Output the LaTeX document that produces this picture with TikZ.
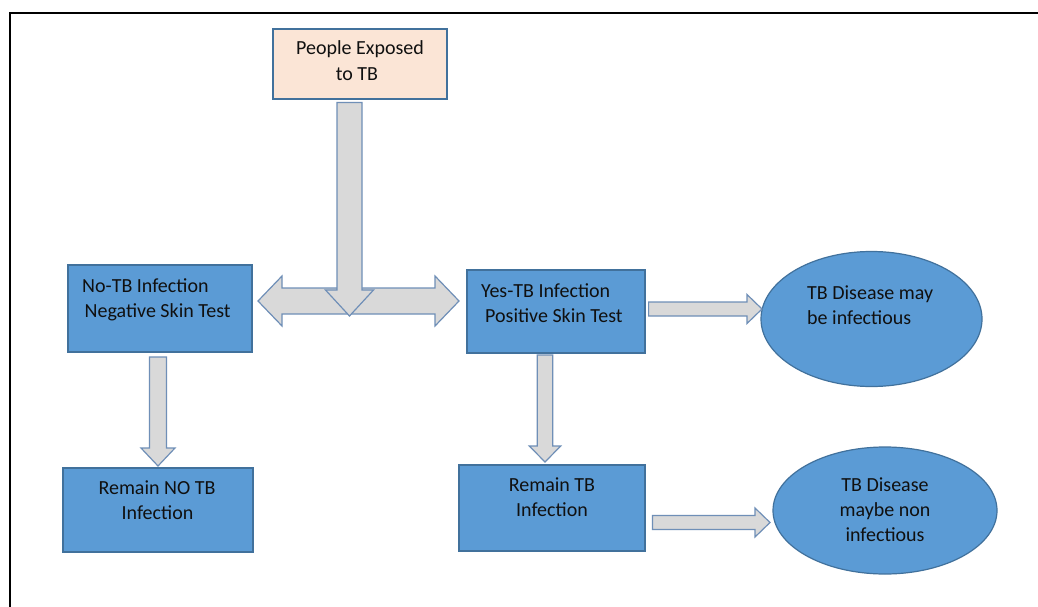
\documentclass[tikz,border=0pt]{standalone}
\usepackage{fontspec}
\setmainfont{Carlito}
\usetikzlibrary{calc,shapes.geometric}

\definecolor{boxblue}{HTML}{5B9BD5}
\definecolor{edgeblue}{HTML}{41719C}
\definecolor{peach}{HTML}{FBE5D6}
\definecolor{arrowgray}{HTML}{D9D9D9}
\definecolor{arrowedge}{HTML}{6F8FB7}
\definecolor{ink}{HTML}{101010}

% block arrow from tail #1 to tip #2: shaft half width #3, head half width #4, head length #5
\newcommand\flowarrow[5]{%
  \coordinate (fa-h) at ($(#2)!#5!(#1)$);
  \draw[blockarrow] ($(#1)!#3!90:(#2)$) -- ($(fa-h)!#3!90:(#2)$) -- ($(fa-h)!#4!90:(#2)$)
    -- (#2) -- ($(fa-h)!#4!-90:(#2)$) -- ($(fa-h)!#3!-90:(#2)$) -- ($(#1)!#3!-90:(#2)$) -- cycle;}

% block arrow with heads at both ends #1 and #2
\newcommand\twowayarrow[5]{%
  \coordinate (tw-a) at ($(#1)!#5!(#2)$);
  \coordinate (tw-b) at ($(#2)!#5!(#1)$);
  \draw[blockarrow] (#1) -- ($(tw-a)!#4!90:(#2)$) -- ($(tw-a)!#3!90:(#2)$)
    -- ($(tw-b)!#3!-90:(#1)$) -- ($(tw-b)!#4!-90:(#1)$) -- (#2)
    -- ($(tw-b)!#4!90:(#1)$) -- ($(tw-b)!#3!90:(#1)$)
    -- ($(tw-a)!#3!-90:(#2)$) -- ($(tw-a)!#4!-90:(#2)$) -- cycle;}

\begin{document}
\begin{tikzpicture}[x=1pt,y=-1pt,
  bluebox/.style={rectangle, draw=edgeblue, fill=boxblue, line width=1.2pt, inner sep=0pt},
  peachbox/.style={rectangle, draw=edgeblue, fill=peach, line width=1.2pt, inner sep=0pt},
  blueoval/.style={ellipse, draw=edgeblue, fill=boxblue, line width=1.2pt, inner sep=0pt},
  blockarrow/.style={draw=arrowedge, fill=arrowgray, line width=1.2pt, line join=miter},
  txt/.style={font=\fontsize{20}{25}\selectfont, text=ink, inner sep=0pt}]

\useasboundingbox (0,0) rectangle (1038,607);
\fill[white] (0,0) rectangle (1038,607);

% page frame
\draw[line width=2pt] (9.5,607) -- (9.5,13) -- (1038,13);

% boxes
\node[peachbox, minimum width=174pt, minimum height=70pt] (exposed) at (360,64) {};
\node[bluebox, minimum width=184pt, minimum height=87pt] (notb) at (160,308.5) {};
\node[bluebox, minimum width=178pt, minimum height=83pt] (yestb) at (556,311.5) {};
\node[bluebox, minimum width=190pt, minimum height=84pt] (remno) at (158,510) {};
\node[bluebox, minimum width=186pt, minimum height=86pt] (remtb) at (552,508) {};
\node[blueoval, minimum width=221pt, minimum height=135pt] (dis1) at (871.5,319) {};
\node[blueoval, minimum width=224pt, minimum height=127pt] (dis2) at (885,510.5) {};

% arrow end points
\coordinate (split-l) at (258,301);
\coordinate (split-r) at (459,301);
\coordinate (down-top) at ($(exposed.south)+(-10.5,3)$);
\coordinate (down-tip) at (349.5,316);
\coordinate (yes-out) at ($(yestb.east)+(3,-2.5)$);
\coordinate (dis1-in) at (762,309);
\coordinate (notb-out) at (158,357);
\coordinate (remno-in) at (158,466);
\coordinate (yestb-out) at (545,355);
\coordinate (remtb-in) at (545,462);
\coordinate (remtb-out) at (652.5,522.5);
\coordinate (dis2-in) at (770,522.5);

% block arrows
\twowayarrow{split-l}{split-r}{13pt}{25pt}{24pt}
\flowarrow{down-top}{down-tip}{12.5pt}{24pt}{26pt}
\flowarrow{yes-out}{dis1-in}{7pt}{14.5pt}{15pt}
\flowarrow{notb-out}{remno-in}{8.5pt}{17pt}{18pt}
\flowarrow{yestb-out}{remtb-in}{7.7pt}{15.7pt}{16pt}
\flowarrow{remtb-out}{dis2-in}{7pt}{14.5pt}{15pt}

% texts
\node[txt, anchor=base] (exposed-1) at (360,55) {People Exposed};
\node[txt, anchor=base] (exposed-2) at (357,81) {to TB};
\node[txt, anchor=base west] (notb-1) at (82,292) {No-TB Infection};
\node[txt, anchor=base west] (notb-2) at (84.5,317) {Negative Skin Test};
\node[txt, anchor=base west] (yestb-1) at (481,297) {Yes-TB Infection};
\node[txt, anchor=base west] (yestb-2) at (485,322) {Positive Skin Test};
\node[txt, anchor=base west] (dis1-1) at (807,299) {TB Disease may};
\node[txt, anchor=base west] (dis1-2) at (807,324) {be infectious};
\node[txt, anchor=base] (remno-1) at (157,494) {Remain NO TB};
\node[txt, anchor=base] (remno-2) at (157.5,519) {Infection};
\node[txt, anchor=base] (remtb-1) at (552,491.5) {Remain TB};
\node[txt, anchor=base] (remtb-2) at (552,516.5) {Infection};
\node[txt, anchor=base] (dis2-1) at (885,491) {TB Disease};
\node[txt, anchor=base] (dis2-2) at (885,516) {maybe non};
\node[txt, anchor=base] (dis2-3) at (885,541) {infectious};

\end{tikzpicture}
\end{document}
